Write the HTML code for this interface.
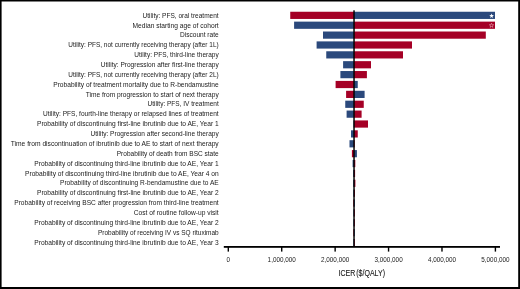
<!DOCTYPE html>
<html><head><meta charset="utf-8"><title>Tornado diagram</title>
<style>
html,body{margin:0;padding:0;background:#fff;}
svg{display:block;}
.lab{font-family:"Liberation Sans",sans-serif;font-size:7.2px;fill:#1a1a1a;}
.tick{font-family:"Liberation Sans",sans-serif;font-size:7.1px;fill:#1a1a1a;}
.ttl{font-family:"Liberation Sans",sans-serif;font-size:9.1px;fill:#1a1a1a;stroke:#1a1a1a;stroke-width:0.12px;word-spacing:-1.4px;}
</style></head><body>
<svg width="520" height="289" viewBox="0 0 520 289">
<rect x="0" y="0" width="520" height="289" fill="#fff"/>
<path d="M0 0H520V289H0Z M1.6 1.5V287.1H518.2V1.5Z" fill="#000" fill-rule="evenodd"/>
<text class="lab" x="142.5" y="17.65" textLength="76.20" lengthAdjust="spacingAndGlyphs">Utility: PFS, oral treatment</text>
<text class="lab" x="132.5" y="27.52" textLength="86.20" lengthAdjust="spacingAndGlyphs">Median starting age of cohort</text>
<text class="lab" x="180" y="37.39" textLength="38.70" lengthAdjust="spacingAndGlyphs">Discount rate</text>
<text class="lab" x="68.25" y="47.26" textLength="150.45" lengthAdjust="spacingAndGlyphs">Utility: PFS, not currently receiving therapy (after 1L)</text>
<text class="lab" x="134.25" y="57.13" textLength="84.45" lengthAdjust="spacingAndGlyphs">Utility: PFS, third-line therapy</text>
<text class="lab" x="100.75" y="67.00" textLength="117.95" lengthAdjust="spacingAndGlyphs">Utility: Progression after first-line therapy</text>
<text class="lab" x="68.25" y="76.87" textLength="150.45" lengthAdjust="spacingAndGlyphs">Utility: PFS, not currently receiving therapy (after 2L)</text>
<text class="lab" x="53.25" y="86.74" textLength="165.45" lengthAdjust="spacingAndGlyphs">Probability of treatment mortality due to R-bendamustine</text>
<text class="lab" x="85.75" y="96.61" textLength="132.95" lengthAdjust="spacingAndGlyphs">Time from progression to start of next therapy</text>
<text class="lab" x="147.5" y="106.48" textLength="71.20" lengthAdjust="spacingAndGlyphs">Utility: PFS, IV treatment</text>
<text class="lab" x="43" y="116.35" textLength="175.70" lengthAdjust="spacingAndGlyphs">Utility: PFS, fourth-line therapy or relapsed lines of treatment</text>
<text class="lab" x="37" y="126.22" textLength="181.70" lengthAdjust="spacingAndGlyphs">Probability of discontinuing first-line ibrutinib due to AE, Year 1</text>
<text class="lab" x="90.5" y="136.09" textLength="128.20" lengthAdjust="spacingAndGlyphs">Utility: Progression after second-line therapy</text>
<text class="lab" x="10.75" y="145.96" textLength="207.95" lengthAdjust="spacingAndGlyphs">Time from discontinuation of ibrutinib due to AE to start of next therapy</text>
<text class="lab" x="116.75" y="155.83" textLength="101.95" lengthAdjust="spacingAndGlyphs">Probability of death from BSC state</text>
<text class="lab" x="34.25" y="165.70" textLength="184.45" lengthAdjust="spacingAndGlyphs">Probability of discontinuing third-line ibrutinib due to AE, Year 1</text>
<text class="lab" x="25" y="175.57" textLength="193.70" lengthAdjust="spacingAndGlyphs">Probability of discontinuing third-line ibrutinib due to AE, Year 4 on</text>
<text class="lab" x="60" y="185.44" textLength="158.70" lengthAdjust="spacingAndGlyphs">Probability of discontinuing R-bendamustine due to AE</text>
<text class="lab" x="37" y="195.31" textLength="181.70" lengthAdjust="spacingAndGlyphs">Probability of discontinuing first-line ibrutinib due to AE, Year 2</text>
<text class="lab" x="14.25" y="205.18" textLength="204.45" lengthAdjust="spacingAndGlyphs">Probability of receiving BSC after progression from third-line treatment</text>
<text class="lab" x="133.75" y="215.05" textLength="84.95" lengthAdjust="spacingAndGlyphs">Cost of routine follow-up visit</text>
<text class="lab" x="34.25" y="224.92" textLength="184.45" lengthAdjust="spacingAndGlyphs">Probability of discontinuing third-line ibrutinib due to AE, Year 2</text>
<text class="lab" x="98" y="234.79" textLength="120.70" lengthAdjust="spacingAndGlyphs">Probability of receiving IV vs SQ rituximab</text>
<text class="lab" x="34.25" y="244.66" textLength="184.45" lengthAdjust="spacingAndGlyphs">Probability of discontinuing third-line ibrutinib due to AE, Year 3</text>
<rect x="290.25" y="11.75" width="63.75" height="7.2" fill="#a50026"/><rect x="354.0" y="11.75" width="141.00" height="7.2" fill="#2b497c"/>
<rect x="294.1" y="21.63" width="59.90" height="7.2" fill="#2b497c"/><rect x="354.0" y="21.63" width="141.00" height="7.2" fill="#a50026"/>
<rect x="323" y="31.51" width="31.00" height="7.2" fill="#2b497c"/><rect x="354.0" y="31.51" width="131.80" height="7.2" fill="#a50026"/>
<rect x="316.6" y="41.39" width="37.40" height="7.2" fill="#2b497c"/><rect x="354.0" y="41.39" width="58.00" height="7.2" fill="#a50026"/>
<rect x="326.25" y="51.27" width="27.75" height="7.2" fill="#2b497c"/><rect x="354.0" y="51.27" width="49.00" height="7.2" fill="#a50026"/>
<rect x="343.1" y="61.15" width="10.90" height="7.2" fill="#2b497c"/><rect x="354.0" y="61.15" width="17.00" height="7.2" fill="#a50026"/>
<rect x="340.4" y="71.03" width="13.60" height="7.2" fill="#2b497c"/><rect x="354.0" y="71.03" width="12.90" height="7.2" fill="#a50026"/>
<rect x="335.6" y="80.91" width="18.40" height="7.2" fill="#a50026"/><rect x="354.0" y="80.91" width="3.75" height="7.2" fill="#2b497c"/>
<rect x="346.1" y="90.79" width="7.90" height="7.2" fill="#a50026"/><rect x="354.0" y="90.79" width="10.60" height="7.2" fill="#2b497c"/>
<rect x="345.25" y="100.67" width="8.75" height="7.2" fill="#2b497c"/><rect x="354.0" y="100.67" width="9.75" height="7.2" fill="#a50026"/>
<rect x="346.6" y="110.55" width="7.40" height="7.2" fill="#2b497c"/><rect x="354.0" y="110.55" width="7.60" height="7.2" fill="#a50026"/>
<rect x="353.5" y="120.43" width="0.50" height="7.2" fill="#2b497c"/><rect x="354.0" y="120.43" width="14.00" height="7.2" fill="#a50026"/>
<rect x="351" y="130.31" width="3.00" height="7.2" fill="#2b497c"/><rect x="354.0" y="130.31" width="3.75" height="7.2" fill="#a50026"/>
<rect x="349.5" y="140.19" width="4.50" height="7.2" fill="#2b497c"/><rect x="354.0" y="140.19" width="0.70" height="7.2" fill="#a50026"/>
<rect x="351.9" y="150.07" width="2.10" height="7.2" fill="#a50026"/><rect x="354.0" y="150.07" width="2.90" height="7.2" fill="#2b497c"/>
<rect x="352.6" y="159.95" width="1.40" height="7.2" fill="#2b497c"/><rect x="354.0" y="159.95" width="1.30" height="7.2" fill="#a50026"/>
<rect x="353.2" y="169.83" width="0.80" height="7.2" fill="#2b497c"/><rect x="354.0" y="169.83" width="1.10" height="7.2" fill="#a50026"/>
<rect x="353.2" y="179.71" width="0.80" height="7.2" fill="#2b497c"/><rect x="354.0" y="179.71" width="1.40" height="7.2" fill="#a50026"/>
<rect x="353.3" y="189.59" width="0.70" height="7.2" fill="#2b497c"/><rect x="354.0" y="189.59" width="1.00" height="7.2" fill="#a50026"/>
<rect x="353.3" y="199.47" width="0.70" height="7.2" fill="#a50026"/><rect x="354.0" y="199.47" width="0.90" height="7.2" fill="#2b497c"/>
<rect x="353.4" y="209.35" width="0.60" height="7.2" fill="#2b497c"/><rect x="354.0" y="209.35" width="0.90" height="7.2" fill="#a50026"/>
<rect x="353.4" y="219.23" width="0.60" height="7.2" fill="#2b497c"/><rect x="354.0" y="219.23" width="0.90" height="7.2" fill="#a50026"/>
<rect x="353.4" y="229.11" width="0.60" height="7.2" fill="#a50026"/><rect x="354.0" y="229.11" width="0.80" height="7.2" fill="#2b497c"/>
<rect x="353.4" y="238.99" width="0.60" height="7.2" fill="#2b497c"/><rect x="354.0" y="238.99" width="0.80" height="7.2" fill="#a50026"/>
<rect x="353.3" y="10.3" width="1.45" height="236.5" fill="#000"/>
<rect x="223.8" y="246.0" width="276.2" height="1.8" fill="#000"/>
<rect x="227.60" y="246.1" width="1.4" height="5.5" fill="#000"/><text class="tick" x="226.55" y="262.0" textLength="3.5" lengthAdjust="spacingAndGlyphs">0</text>
<rect x="281.02" y="246.1" width="1.4" height="5.5" fill="#000"/><text class="tick" x="267.62" y="262.0" textLength="28.2" lengthAdjust="spacingAndGlyphs">1,000,000</text>
<rect x="334.44" y="246.1" width="1.4" height="5.5" fill="#000"/><text class="tick" x="321.04" y="262.0" textLength="28.2" lengthAdjust="spacingAndGlyphs">2,000,000</text>
<rect x="387.86" y="246.1" width="1.4" height="5.5" fill="#000"/><text class="tick" x="374.46" y="262.0" textLength="28.2" lengthAdjust="spacingAndGlyphs">3,000,000</text>
<rect x="441.28" y="246.1" width="1.4" height="5.5" fill="#000"/><text class="tick" x="427.88" y="262.0" textLength="28.2" lengthAdjust="spacingAndGlyphs">4,000,000</text>
<rect x="494.70" y="246.1" width="1.4" height="5.5" fill="#000"/><text class="tick" x="481.30" y="262.0" textLength="28.2" lengthAdjust="spacingAndGlyphs">5,000,000</text>
<text class="ttl" x="338.6" y="275.6" textLength="46.4" lengthAdjust="spacingAndGlyphs">ICER ($/QALY)</text>
<polygon points="491.60,13.40 492.19,15.09 493.98,15.13 492.55,16.21 493.07,17.92 491.60,16.90 490.13,17.92 490.65,16.21 489.22,15.13 491.01,15.09" fill="#fff"/>
<polygon points="491.50,23.20 492.06,24.73 493.69,24.79 492.40,25.79 492.85,27.36 491.50,26.45 490.15,27.36 490.60,25.79 489.31,24.79 490.94,24.73" fill="none" stroke="#f0c4cc" stroke-width="0.5"/>
</svg></body></html>
